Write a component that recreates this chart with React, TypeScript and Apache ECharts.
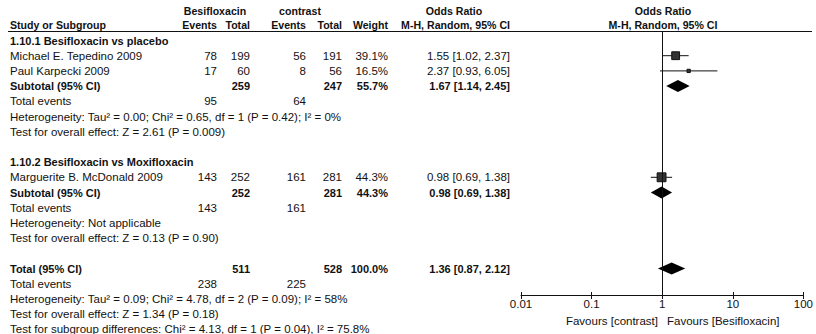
import React, { useEffect, useRef } from "react";
import * as echarts from "echarts";

// ---- Table rows (categories) ----
const rowLabels: string[] = [
  "1.10.1 Besifloxacin vs placebo",
  "Michael E. Tepedino 2009",
  "Paul Karpecki 2009",
  "Subtotal (95% CI)",
  "Total events",
  "Heterogeneity: Tau² = 0.00; Chi² = 0.65, df = 1 (P = 0.42); I² = 0%",
  "Test for overall effect: Z = 2.61 (P = 0.009)",
  "",
  "1.10.2 Besifloxacin vs Moxifloxacin",
  "Marguerite B. McDonald 2009",
  "Subtotal (95% CI)",
  "Total events",
  "Heterogeneity: Not applicable",
  "Test for overall effect: Z = 0.13 (P = 0.90)",
  "",
  "Total (95% CI)",
  "Total events",
  "Heterogeneity: Tau² = 0.09; Chi² = 4.78, df = 2 (P = 0.09); I² = 58%",
  "Test for overall effect: Z = 1.34 (P = 0.18)",
  "Test for subgroup differences: Chi² = 4.13, df = 1 (P = 0.04), I² = 75.8%",
];

// ---- Column values aligned with rowLabels ----
const besiEvents = ["", "78", "17", "", "95", "", "", "", "", "143", "", "143", "", "", "", "", "238", "", "", ""];
const besiTotal = ["", "199", "60", "259", "", "", "", "", "", "252", "252", "", "", "", "", "511", "", "", "", ""];
const contrastEvents = ["", "56", "8", "", "64", "", "", "", "", "161", "", "161", "", "", "", "", "225", "", "", ""];
const contrastTotal = ["", "191", "56", "247", "", "", "", "", "", "281", "281", "", "", "", "", "528", "", "", "", ""];

// ---- Individual studies ----
const studies = ["Michael E. Tepedino 2009", "Paul Karpecki 2009", "Marguerite B. McDonald 2009"];
const studyOR = [1.55, 2.37, 0.98];
const studyLo = [1.02, 0.93, 0.69];
const studyHi = [2.37, 6.05, 1.38];
const studyWeight = [39.1, 16.5, 44.3];

// ---- Pooled estimates (Subtotal 1.10.1, Subtotal 1.10.2, Total) ----
const pooledOR = [1.67, 0.98, 1.36];
const pooledLo = [1.14, 0.69, 0.87];
const pooledHi = [2.45, 1.38, 2.12];
const pooledWeight = [55.7, 44.3, 100.0];

// ---- Axis ----
const axisTicks = [0.01, 0.1, 1, 10, 100];
const favoursLeft = "Favours [contrast]";
const favoursRight = "Favours [Besifloxacin]";

const FONT = "'Liberation Sans', Arial, Helvetica, sans-serif";
const FS = 11.5;
const FS_BOLD = 11;
const FS_HEAD = 10.6;
const TXT = "#111";

export default function App() {
  const ref = useRef<HTMLDivElement>(null);

  useEffect(() => {
    if (!ref.current) return;
    const chart = echarts.init(ref.current, undefined, { renderer: "svg" });

    const ROW0 = 40.5;
    const ROWH = 15.2;
    const rowY = (i: number) => ROW0 + ROWH * i;
    const pooledRows: number[] = [];
    rowLabels.forEach((l, i) => {
      if (l === "Subtotal (95% CI)" || l === "Total (95% CI)") pooledRows.push(i);
    });
    const isBold = (l: string) => /^1\.10|^Subtotal|^Total \(/.test(l);
    const fmt = (o: number, lo: number, hi: number) => `${o.toFixed(2)} [${lo.toFixed(2)}, ${hi.toFixed(2)}]`;

    const weightCol: string[] = rowLabels.map(() => "");
    const orCol: string[] = rowLabels.map(() => "");
    studies.forEach((s, k) => {
      const r = rowLabels.indexOf(s);
      weightCol[r] = studyWeight[k].toFixed(1) + "%";
      orCol[r] = fmt(studyOR[k], studyLo[k], studyHi[k]);
    });
    pooledRows.forEach((r, k) => {
      weightCol[r] = pooledWeight[k].toFixed(1) + "%";
      orCol[r] = fmt(pooledOR[k], pooledLo[k], pooledHi[k]);
    });

    const graphic: any[] = [];
    const txt = (text: string, x: number, y: number, align: string, bold: boolean, size?: number) =>
      graphic.push({
        type: "text",
        x,
        y,
        silent: true,
        style: {
          text,
          fill: TXT,
          font: `${bold ? "bold " : ""}${size ?? (bold ? FS_BOLD : FS)}px ${FONT}`,
          textAlign: align,
          textVerticalAlign: "middle",
        },
      });

    // headers
    txt("Besifloxacin", 215, 11, "center", true, FS_HEAD);
    txt("contrast", 300, 11, "center", true, FS_HEAD);
    txt("Odds Ratio", 454, 11, "center", true, FS_HEAD);
    txt("Odds Ratio", 663, 11, "center", true, FS_HEAD);
    txt("Study or Subgroup", 10, 25, "left", true, FS_HEAD);
    txt("Events", 217, 25, "right", true, FS_HEAD);
    txt("Total", 250, 25, "right", true, FS_HEAD);
    txt("Events", 306, 25, "right", true, FS_HEAD);
    txt("Total", 342, 25, "right", true, FS_HEAD);
    txt("Weight", 388, 25, "right", true, FS_HEAD);
    txt("M-H, Random, 95% CI", 510, 25, "right", true, FS_HEAD);
    txt("M-H, Random, 95% CI", 663, 25, "center", true, FS_HEAD);
    graphic.push({
      type: "line",
      silent: true,
      shape: { x1: 8, y1: 31.5, x2: 812, y2: 31.5 },
      style: { stroke: TXT, lineWidth: 1 },
    });

    rowLabels.forEach((l, i) => {
      const y = rowY(i);
      const b = isBold(l);
      if (l) txt(l, 10, y, "left", b);
      if (besiEvents[i]) txt(besiEvents[i], 217, y, "right", b);
      if (besiTotal[i]) txt(besiTotal[i], 250, y, "right", b);
      if (contrastEvents[i]) txt(contrastEvents[i], 306, y, "right", b);
      if (contrastTotal[i]) txt(contrastTotal[i], 342, y, "right", b);
      if (weightCol[i]) txt(weightCol[i], 388, y, "right", b);
      if (orCol[i]) txt(orCol[i], 510, y, "right", b);
    });

    txt(favoursLeft, 658, 321, "right", false);
    txt(favoursRight, 667, 321, "left", false);

    const studyData = studies.map((s, k) => [studyOR[k], studyLo[k], studyHi[k], rowLabels.indexOf(s), studyWeight[k]]);
    const pooledData = pooledRows.map((r, k) => [pooledOR[k], pooledLo[k], pooledHi[k], r]);

    const gridTop = 31;
    const gridH = 264;
    const yMin = -(ROW0 - gridTop) / ROWH;
    const yMax = yMin + gridH / ROWH;

    chart.setOption({
      animation: false,
      backgroundColor: "#fff",
      graphic,
      grid: { left: 521, width: 285, top: gridTop, height: gridH },
      xAxis: [
        {
          type: "log",
          logBase: 10,
          min: axisTicks[0],
          max: axisTicks[axisTicks.length - 1],
          position: "bottom",
          axisLine: { show: true, onZero: false, lineStyle: { color: TXT, width: 1 } },
          axisTick: { show: true, length: 4, lineStyle: { color: TXT } },
          splitLine: { show: false },
          axisLabel: {
            color: TXT,
            fontSize: FS,
            fontFamily: FONT,
            margin: 3,
            formatter: (v: number) => String(Number(v.toPrecision(6))),
          },
        },
        {
          type: "log",
          logBase: 10,
          min: axisTicks[0],
          max: axisTicks[axisTicks.length - 1],
          position: "bottom",
          axisLine: { show: false, onZero: false },
          axisTick: { show: true, inside: true, length: 3, lineStyle: { color: TXT } },
          splitLine: { show: false },
          axisLabel: { show: false },
        },
      ],
      yAxis: { type: "value", inverse: true, min: yMin, max: yMax, show: false },
      series: [
        {
          type: "custom",
          xAxisIndex: 0,
          data: studyData,
          encode: { x: [0, 1, 2], y: 3 },
          silent: true,
          renderItem: (params: any, api: any) => {
            const row = api.value(3);
            const pL = api.coord([api.value(1), row]);
            const pH = api.coord([api.value(2), row]);
            const pE = api.coord([api.value(0), row]);
            const s = api.value(4) * 0.2;
            return {
              type: "group",
              children: [
                {
                  type: "line",
                  shape: { x1: pL[0], y1: pL[1], x2: pH[0], y2: pH[1] },
                  style: { stroke: TXT, lineWidth: 1 },
                },
                {
                  type: "rect",
                  shape: { x: pE[0] - s / 2, y: pE[1] - s / 2, width: s, height: s },
                  style: { fill: "#333", stroke: "#111", lineWidth: 1 },
                },
              ],
            };
          },
          markLine: {
            silent: true,
            symbol: "none",
            label: { show: false },
            lineStyle: { color: TXT, width: 1, type: "solid" },
            data: [{ xAxis: 1 }],
          },
        },
        {
          type: "custom",
          xAxisIndex: 0,
          data: pooledData,
          encode: { x: [0, 1, 2], y: 3 },
          silent: true,
          renderItem: (params: any, api: any) => {
            const row = api.value(3);
            const pL = api.coord([api.value(1), row]);
            const pH = api.coord([api.value(2), row]);
            const pE = api.coord([api.value(0), row]);
            return {
              type: "polygon",
              shape: {
                points: [
                  [pL[0], pL[1]],
                  [pE[0], pE[1] - 6],
                  [pH[0], pH[1]],
                  [pE[0], pE[1] + 6],
                ],
              },
              style: { fill: "#000" },
            };
          },
        },
      ],
    });

    return () => chart.dispose();
  }, []);

  return (
    <div
      ref={ref}
      style={{ position: "absolute", left: 0, top: 0, width: 816, height: 334, background: "#fff" }}
    />
  );
}
